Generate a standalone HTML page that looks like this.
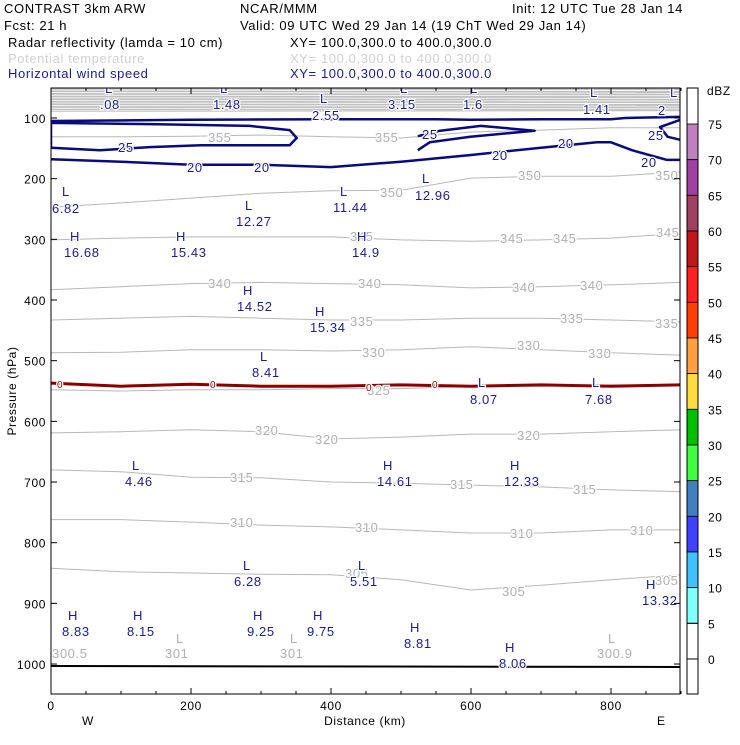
<!DOCTYPE html>
<html><head><meta charset="utf-8"><style>
body{margin:0;background:#fff;}
svg text{font-family:"Liberation Sans",sans-serif;letter-spacing:0.6px;}
</style></head><body>
<svg id="chart" width="740" height="740" xmlns="http://www.w3.org/2000/svg">
<g font-size="13" fill="#000">
<text x="4" y="13">CONTRAST  3km ARW</text>
<text x="240" y="13">NCAR/MMM</text>
<text x="512" y="13">Init: 12 UTC Tue 28 Jan 14</text>
<text x="4" y="30">Fcst:    21 h</text>
<text x="240" y="30">Valid: 09 UTC Wed 29 Jan 14 (19 ChT Wed 29 Jan 14)</text>
<text x="8" y="47">Radar reflectivity (lamda = 10 cm)</text>
<text x="290" y="47">XY= 100.0,300.0 to 400.0,300.0</text>
<text x="8" y="63" fill="#d0d0d0">Potential temperature</text>
<text x="290" y="63" fill="#d0d0d0">XY= 100.0,300.0 to 400.0,300.0</text>
<text x="8" y="78" fill="#1a1a9a">Horizontal wind speed</text>
<text x="290" y="78" fill="#1a1a9a">XY= 100.0,300.0 to 400.0,300.0</text>
</g>
<g id="plot"></g>
<g id="cbar"></g>
</svg>
<script>
const kmCommon=[0,100,200,300,400,500,600,700,800,900];
const theta355=[131,131,130,128,131,133,123,120,116,116];
const theta350=[247,240,232,224,220,219,199,196,196,189];
const theta345=[301,298,296,296,296,301,303,301,298,290];
const theta340=[383,378,373,371,373,375,380,378,375,371];
const theta335=[433,430,427,430,433,433,430,430,433,436];
const theta330=[487,486,482,482,484,482,477,482,487,491];
const theta325=[548,550,548,548,546,546,542,542,540,540];
const theta320=[619,617,614,617,629,626,621,621,617,614];
const theta315=[680,683,692,693,700,702,705,708,713,716];
const theta310=[762,762,766,771,774,779,784,784,779,779];
const theta305=[842,848,850,852,853,861,878,870,861,853];
const dbz0=[537,542,539,542,542,540,542,540,542,540];
const wind20Km=[0,100,200,300,400,500,600,700,780,800,830,880,900];
const wind20P=[168,172,177,177,181,172,161,149,140,140,153,169,169];
const wind30Km=[0,200,400,550,600,700,800,820,900];
const wind30P=[105,103,102,102,103,102,102,100,98];
const wind25aKm=[0,141,284,341,351,341,214,141,70,0];
const wind25aP=[108,110,113,120,133,145,145,148,153,149];
const wind25bKm=[524,556,614,691,599,541,524];
const wind25bP=[130,121,113,121,131,140,153];
const wind25cKm=[899,870,881,899];
const wind25cP=[103,115,131,136];
const pTicks=[100,200,300,400,500,600,700,800,900,1000];
const xTicks=[0,200,400,600,800];
const cbarLevels=[75,70,65,60,55,50,45,40,35,30,25,20,15,10,5,0];
const cbarColors=["#c080c0","#a040a0","#a04060","#c01818","#ff2020","#ff4000","#ffa040","#ffdd40","#00c000","#40ff40","#4080c0","#4040ff","#40c0ff","#80ffff"];

const NS="http://www.w3.org/2000/svg";
const X0=51,X1=680,Y0=88,Y1=694;
function xs(km){return 51+km*0.7;}
function ys(p){return 118+(p-100)*0.6067;}
function mk(t,a,parent){const e=document.createElementNS(NS,t);for(const k in a)e.setAttribute(k,a[k]);parent.appendChild(e);return e;}
const plot=document.getElementById('plot');
const clip=mk('clipPath',{id:'pc'},plot);mk('rect',{x:X0,y:Y0,width:X1-X0,height:Y1-Y0},clip);
const inner=mk('g',{'clip-path':'url(#pc)'},plot);


const band=mk('rect',{x:X0,y:Y0,width:X1-X0,height:24,fill:'#c0c0c0'},inner);


for(let y=Y0+2;y<Y0+26;y+=2.6){const l=mk('line',{x1:X0,x2:X1,y1:y,y2:y+0.6,stroke:'#fff','stroke-width':0.8},inner);}
function line(km,p,color,w,name,closed){
  const pts=km.map((k,i)=>xs(k).toFixed(1)+','+ys(p[i]).toFixed(1)).join(' ');
  const e=mk(closed?'polygon':'polyline',{points:pts,fill:'none',stroke:color,'stroke-width':w,'stroke-linejoin':'round'},inner);
  
  
}
const thetas=[[355,theta355],[350,theta350],[345,theta345],[340,theta340],[335,theta335],[330,theta330],[325,theta325],[320,theta320],[315,theta315],[310,theta310],[305,theta305]];
thetas.forEach(([v,a])=>line(kmCommon,a,'#b8b8b8',1,'theta-'+v+'-contour'));
line(kmCommon,dbz0,'#8b0000',3,'reflectivity-0-contour');
line(wind30Km,wind30P,'#0a0a80',2.5,'wind-30-contour');
line(wind20Km,wind20P,'#0a0a80',2.5,'wind-20-contour');
line(wind25aKm,wind25aP,'#0a0a80',2.5,'wind-25-contour-left',true);
line(wind25bKm,wind25bP,'#0a0a80',2.5,'wind-25-contour-mid');
line(wind25cKm,wind25cP,'#0a0a80',2.5,'wind-25-contour-right');
const g=mk('line',{x1:X0,x2:X1,y1:666,y2:667,stroke:'#000','stroke-width':2},inner);


const labs=[
["355",208,142,'#b0b0b0'],["355",375,142,'#b0b0b0'],["350",380,197,'#b0b0b0'],["350",655,180,'#b0b0b0'],["350",518,180,'#b0b0b0'],
["345",350,241,'#b0b0b0'],["345",500,243,'#b0b0b0'],["345",553,243,'#b0b0b0'],["345",656,237,'#b0b0b0'],
["340",208,288,'#b0b0b0'],["340",358,288,'#b0b0b0'],["340",512,292,'#b0b0b0'],["340",580,290,'#b0b0b0'],
["335",350,326,'#b0b0b0'],["335",560,323,'#b0b0b0'],["335",655,328,'#b0b0b0'],
["330",362,357,'#b0b0b0'],["330",517,350,'#b0b0b0'],["330",588,358,'#b0b0b0'],
["325",367,395,'#b0b0b0'],["320",255,435,'#b0b0b0'],["320",315,444,'#b0b0b0'],["320",517,440,'#b0b0b0'],
["315",230,482,'#b0b0b0'],["315",450,489,'#b0b0b0'],["315",573,494,'#b0b0b0'],
["310",230,527,'#b0b0b0'],["310",355,532,'#b0b0b0'],["310",510,538,'#b0b0b0'],["310",630,535,'#b0b0b0'],
["305",345,578,'#b0b0b0'],["305",502,596,'#b0b0b0'],["305",655,585,'#b0b0b0'],
["L",176,643,'#b0b0b0'],["300.5",52,658,'#b0b0b0'],["L",290,643,'#b0b0b0'],["301",165,658,'#b0b0b0'],["301",280,658,'#b0b0b0'],["L",608,643,'#b0b0b0'],["300.9",597,658,'#b0b0b0'],
["25",118,152,'#1a1a9a'],["25",422,139,'#1a1a9a'],["25",648,140,'#1a1a9a'],["20",187,172,'#1a1a9a'],["20",254,172,'#1a1a9a'],["20",492,160,'#1a1a9a'],["20",558,148,'#1a1a9a'],["20",641,167,'#1a1a9a'],
["L",105,93,'#1a1a9a'],[".08",100,109,'#1a1a9a'],["L",220,93,'#1a1a9a'],["1.48",213,109,'#1a1a9a'],["L",320,103,'#1a1a9a'],["2.55",312,120,'#1a1a9a'],["L",400,93,'#1a1a9a'],["3.15",388,109,'#1a1a9a'],["L",470,93,'#1a1a9a'],["1.6",463,109,'#1a1a9a'],["L",590,97,'#1a1a9a'],["1.41",583,114,'#1a1a9a'],["L",670,97,'#1a1a9a'],["2",658,115,'#1a1a9a'],
["L",62,196,'#1a1a9a'],["6.82",52,213,'#1a1a9a'],["L",245,210,'#1a1a9a'],["12.27",236,226,'#1a1a9a'],["L",340,196,'#1a1a9a'],["11.44",333,212,'#1a1a9a'],["L",422,183,'#1a1a9a'],["12.96",415,200,'#1a1a9a'],
["H",70,241,'#1a1a9a'],["16.68",64,257,'#1a1a9a'],["H",176,241,'#1a1a9a'],["15.43",171,257,'#1a1a9a'],["H",357,241,'#1a1a9a'],["14.9",352,257,'#1a1a9a'],
["H",243,295,'#1a1a9a'],["14.52",237,311,'#1a1a9a'],["H",315,316,'#1a1a9a'],["15.34",310,332,'#1a1a9a'],["L",260,361,'#1a1a9a'],["8.41",252,377,'#1a1a9a'],
["L",478,387,'#1a1a9a'],["8.07",470,404,'#1a1a9a'],["L",592,387,'#1a1a9a'],["7.68",585,404,'#1a1a9a'],
["L",132,470,'#1a1a9a'],["4.46",125,486,'#1a1a9a'],["H",383,470,'#1a1a9a'],["14.61",377,486,'#1a1a9a'],["H",510,470,'#1a1a9a'],["12.33",504,486,'#1a1a9a'],
["L",243,570,'#1a1a9a'],["6.28",234,586,'#1a1a9a'],["L",358,570,'#1a1a9a'],["5.51",350,586,'#1a1a9a'],["H",646,589,'#1a1a9a'],["13.32",642,605,'#1a1a9a'],
["H",68,620,'#1a1a9a'],["8.83",62,636,'#1a1a9a'],["H",133,620,'#1a1a9a'],["8.15",127,636,'#1a1a9a'],["H",253,620,'#1a1a9a'],["9.25",247,636,'#1a1a9a'],["H",313,620,'#1a1a9a'],["9.75",307,636,'#1a1a9a'],["H",410,632,'#1a1a9a'],["8.81",404,648,'#1a1a9a'],["H",505,652,'#1a1a9a'],["8.06",499,668,'#1a1a9a'],
["0",57,388,'#8b0000'],["0",210,388,'#8b0000'],["0",366,391,'#8b0000'],["0",432,388,'#8b0000']];
labs.forEach(([t,x,y,c])=>{const e=mk('text',{x:x,y:y,fill:c,'font-size':(t.length<=2&&c=='#8b0000')?10:13},inner);e.textContent=t;
if(c!='#b0b0b0'||t.length>1){e.setAttribute('stroke','#fff');e.setAttribute('stroke-width','2.5');e.setAttribute('paint-order','stroke');}
});
const fr=mk('rect',{x:X0,y:Y0,width:X1-X0,height:Y1-Y0,fill:'none',stroke:'#000','stroke-width':1},plot);

pTicks.forEach(p=>{const y=ys(p);
 mk('line',{x1:X0,x2:X0+6,y1:y,y2:y,stroke:'#000'},plot);mk('line',{x1:X1-6,x2:X1,y1:y,y2:y,stroke:'#000'},plot);
 const t=mk('text',{x:X0-5,y:y+5,'text-anchor':'end','font-size':12},plot);t.textContent=p;
 });
for(let k=0;k<=900;k+=50){const x=xs(k);const L=k%200==0?6:3;
 mk('line',{x1:x,x2:x,y1:Y1,y2:Y1-L,stroke:'#000'},plot);mk('line',{x1:x,x2:x,y1:Y0,y2:Y0+L,stroke:'#000'},plot);}
xTicks.forEach(k=>{const t=mk('text',{x:xs(k),y:Y1+16,'text-anchor':'middle','font-size':12},plot);t.textContent=k;
 });
const xt=mk('text',{x:365,y:725,'text-anchor':'middle','font-size':12},plot);xt.textContent='Distance (km)';

const w=mk('text',{x:82,y:725,'font-size':12},plot);w.textContent='W';
const e2=mk('text',{x:657,y:725,'font-size':12},plot);e2.textContent='E';
const yt=mk('text',{x:16,y:391,'text-anchor':'middle','font-size':12,transform:'rotate(-90 16 391)'},plot);yt.textContent='Pressure (hPa)';

const cb=document.getElementById('cbar');
function cy(v){return 124+(75-v)*7.133;}
cbarColors.forEach((c,i)=>{const r=mk('rect',{x:687,y:cy(cbarLevels[i]),width:11,height:cy(cbarLevels[i+1])-cy(cbarLevels[i]),fill:c,stroke:'#000','stroke-width':0.8},cb);
 });
mk('rect',{x:687,y:88,width:11,height:606,fill:'none',stroke:'#000'},cb);
mk('line',{x1:687,x2:698,y1:cy(5),y2:cy(5),stroke:'#000'},cb);mk('line',{x1:687,x2:698,y1:cy(0),y2:cy(0),stroke:'#000'},cb);
cbarLevels.forEach(v=>{const t=mk('text',{x:708,y:cy(v)+5,'font-size':12},cb);t.textContent=v;
 });
const du=mk('text',{x:707,y:95,'font-size':12},cb);du.textContent='dBZ';
</script>
</body></html>
